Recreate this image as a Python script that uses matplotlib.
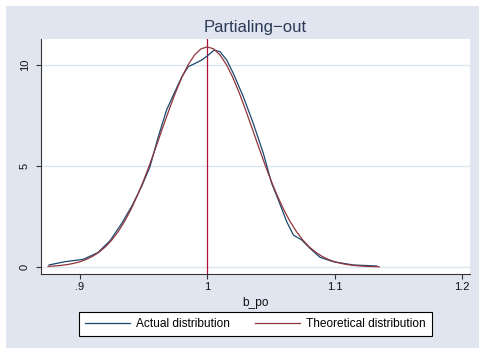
import matplotlib
matplotlib.use('Agg')
import matplotlib.pyplot as plt

plt.rcParams['font.family'] = ['Liberation Sans', 'DejaVu Sans']

# kernel density of the estimates
actual_x = [0.8757, 0.888, 0.9026, 0.914, 0.9236, 0.9327, 0.9406, 0.9485, 0.955,
            0.9615, 0.968, 0.9733, 0.980, 0.985, 0.9903, 0.9956, 1.0, 1.0053,
            1.010, 1.0152, 1.0204, 1.0283, 1.0361, 1.044, 1.0505, 1.0558, 1.0624,
            1.0676, 1.0741, 1.0807, 1.0885, 1.099, 1.1147, 1.133]
actual_y = [0.10, 0.26, 0.38, 0.71, 1.30, 2.15, 3.00, 4.00, 4.97,
            6.45, 7.77, 8.51, 9.42, 9.92, 10.08, 10.25, 10.45, 10.74,
            10.66, 10.25, 9.59, 8.43, 7.11, 5.63, 4.15, 3.32, 2.24,
            1.58, 1.34, 0.92, 0.48, 0.26, 0.10, 0.05]

# theoretical (normal) density
theo_x = [0.875, 0.880, 0.885, 0.890, 0.895, 0.900, 0.905, 0.910, 0.915, 0.920,
          0.925, 0.930, 0.935, 0.940, 0.945, 0.950, 0.955, 0.960, 0.965, 0.970,
          0.975, 0.980, 0.985, 0.990, 0.995, 1.000, 1.005, 1.010, 1.015, 1.020,
          1.025, 1.030, 1.035, 1.040, 1.045, 1.050, 1.055, 1.060, 1.065, 1.070,
          1.075, 1.080, 1.085, 1.090, 1.095, 1.100, 1.105, 1.110, 1.115, 1.120,
          1.125, 1.130, 1.135]
theo_y = [0.032, 0.050, 0.078, 0.119, 0.178, 0.261, 0.375, 0.530, 0.736, 0.999,
          1.336, 1.751, 2.252, 2.846, 3.525, 4.288, 5.118, 6.000, 6.902, 7.789,
          8.634, 9.391, 10.02, 10.50, 10.80, 10.90, 10.80, 10.50, 10.02, 9.391,
          8.634, 7.789, 6.902, 6.000, 5.118, 4.288, 3.525, 2.846, 2.252, 1.751,
          1.336, 0.999, 0.736, 0.530, 0.375, 0.261, 0.178, 0.119, 0.078, 0.050,
          0.032, 0.020, 0.012]

xticks = [0.9, 1.0, 1.1, 1.2]
xticklabels = ['.9', '1', '1.1', '1.2']
yticks = [0, 5, 10]

W, H = 479, 348
fig = plt.figure(figsize=(W / 100, H / 100), dpi=100, facecolor='white')

# bluish graph region, drawn behind everything
bg_ax = fig.add_axes([6 / W, 0, (W - 6) / W, (H - 6) / H], zorder=-10)
bg_ax.set_facecolor('#e0e5f0')
bg_ax.set_xticks([])
bg_ax.set_yticks([])
for s in bg_ax.spines.values():
    s.set_visible(False)

ax = fig.add_axes([41 / W, (H - 274) / H, 429 / W, 235 / H], zorder=1)
ax.set_facecolor('white')

for t in yticks:
    ax.axhline(t, color='#dde5ee', lw=1.0, zorder=1)

ax.axvline(1.0, color='#b0103c', lw=0.9, zorder=2)

ax.plot(actual_x, actual_y, color='#1a476f', lw=0.9, label='Actual distribution', zorder=3)
ax.plot(theo_x, theo_y, color='#90353b', lw=0.9, label='Theoretical distribution', zorder=3)

ax.set_xlim(0.8694, 1.2063)
ax.set_ylim(-0.347, 11.29)

ax.set_xticks(xticks)
ax.set_xticklabels(xticklabels)
ax.set_yticks(yticks)
ax.set_yticklabels([str(t) for t in yticks], rotation=90, va='center')
ax.tick_params(axis='both', direction='out', length=3.6, width=0.8,
               color='#333333', labelsize=8, labelcolor='#111111')
ax.tick_params(axis='y', pad=4.3)
ax.tick_params(axis='x', pad=2.5)

for s in ['top', 'right']:
    ax.spines[s].set_visible(False)
for s in ['left', 'bottom']:
    ax.spines[s].set_color('#333333')
    ax.spines[s].set_linewidth(0.8)

ax.set_xlabel('b_po', fontsize=8.6, color='#111111', labelpad=3)

fig.text(255.5 / W, (H - 32) / H, 'Partialing\u2212out', ha='center', va='baseline',
         fontsize=12, color='#2b3a55')

handles, labels = ax.get_legend_handles_labels()
leg = ax.legend(handles, labels, loc='center',
                bbox_to_anchor=(255.5 / W, (H - 324) / H),
                bbox_transform=fig.transFigure, ncol=2,
                fontsize=8.6, frameon=True, fancybox=False, edgecolor='black',
                facecolor='white', framealpha=1, handlelength=3.75,
                handletextpad=0.5, columnspacing=2.1, borderpad=0.5)
leg.get_frame().set_linewidth(0.8)

fig.savefig('out.png', dpi=100, facecolor=fig.get_facecolor())
